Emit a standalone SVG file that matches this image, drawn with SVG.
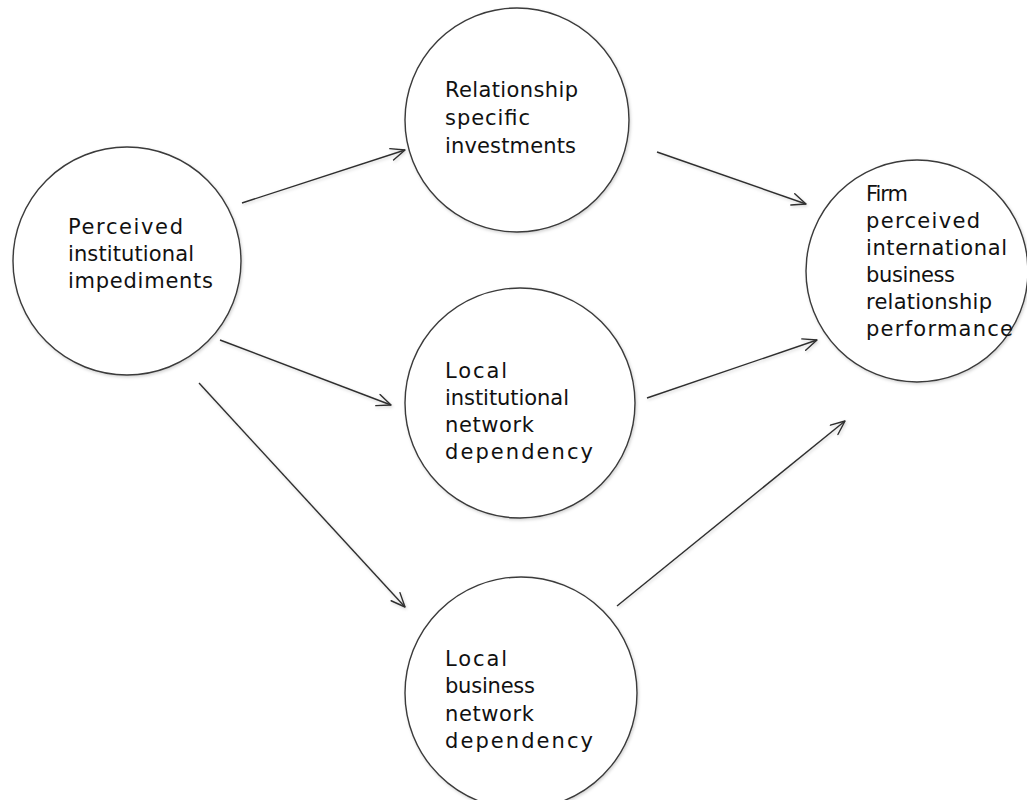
<svg xmlns="http://www.w3.org/2000/svg" width="1027" height="800" viewBox="0 0 1027 800">
  <style>
    .node circle { fill: #ffffff; stroke: #3a3a3a; stroke-width: 1.4; filter: url(#soft); }
    .node text { font-family: "DejaVu Sans", "Liberation Sans", sans-serif; font-size: 21px; fill: #111111; }
    .edges line { stroke: #2e2e2e; stroke-width: 1.4; marker-end: url(#arrow); filter: url(#soft); }
  </style>
  <defs>
    <filter id="soft" x="-10%" y="-10%" width="120%" height="120%">
      <feDropShadow dx="1" dy="1.5" stdDeviation="1.5" flood-color="#000000" flood-opacity="0.18"/>
    </filter>
    <marker id="arrow" viewBox="0 0 16 14" refX="15" refY="7" markerWidth="16" markerHeight="14" markerUnits="userSpaceOnUse" orient="auto">
      <path d="M1,1 L15,7 L1,13" fill="none" stroke="#2e2e2e" stroke-width="1.4" stroke-linecap="round" stroke-linejoin="round"/>
    </marker>
  </defs>

  <rect width="1027" height="800" fill="#ffffff"/>

  <!-- causal paths -->
  <g id="connectors" class="edges">
    <line x1="242" y1="203" x2="405" y2="150"/>
    <line x1="657" y1="152" x2="806" y2="204"/>
    <line x1="243" y1="261" x2="784" y2="261"/>
    <line x1="220" y1="340" x2="391" y2="405"/>
    <line x1="199" y1="383" x2="405" y2="607"/>
    <line x1="647" y1="398" x2="817" y2="340"/>
    <line x1="617" y1="606" x2="845" y2="421"/>
  </g>

  <g id="impediments" class="node">
    <circle cx="127" cy="261" r="114"/>
    <text x="68" y="234" textLength="115" lengthAdjust="spacing">Perceived</text>
    <text x="68" y="261" textLength="126" lengthAdjust="spacing">institutional</text>
    <text x="68" y="288" textLength="145" lengthAdjust="spacing">impediments</text>
  </g>

  <g id="investments" class="node">
    <circle cx="517" cy="120" r="112"/>
    <text x="445" y="97" textLength="133" lengthAdjust="spacing">Relationship</text>
    <text x="445" y="125" textLength="85" lengthAdjust="spacing">specific</text>
    <text x="445" y="153" textLength="131" lengthAdjust="spacing">investments</text>
  </g>

  <g id="performance" class="node">
    <circle cx="917" cy="271" r="111"/>
    <text x="866" y="201" textLength="42" lengthAdjust="spacing">Firm</text>
    <text x="866" y="228" textLength="114" lengthAdjust="spacing">perceived</text>
    <text x="866" y="255" textLength="141" lengthAdjust="spacing">international</text>
    <text x="866" y="282" textLength="89" lengthAdjust="spacing">business</text>
    <text x="866" y="309" textLength="126" lengthAdjust="spacing">relationship</text>
    <text x="866" y="336" textLength="147" lengthAdjust="spacing">performance</text>
  </g>

  <g id="institutional-network" class="node">
    <circle cx="520" cy="403" r="115"/>
    <text x="445" y="378" textLength="62" lengthAdjust="spacing">Local</text>
    <text x="445" y="405" textLength="124" lengthAdjust="spacing">institutional</text>
    <text x="445" y="432" textLength="89" lengthAdjust="spacing">network</text>
    <text x="445" y="459" textLength="148" lengthAdjust="spacing">dependency</text>
  </g>

  <g id="business-network" class="node">
    <circle cx="521" cy="693" r="116"/>
    <text x="445" y="666" textLength="62" lengthAdjust="spacing">Local</text>
    <text x="445" y="693" textLength="90" lengthAdjust="spacing">business</text>
    <text x="445" y="721" textLength="89" lengthAdjust="spacing">network</text>
    <text x="445" y="748" textLength="148" lengthAdjust="spacing">dependency</text>
  </g>
</svg>
